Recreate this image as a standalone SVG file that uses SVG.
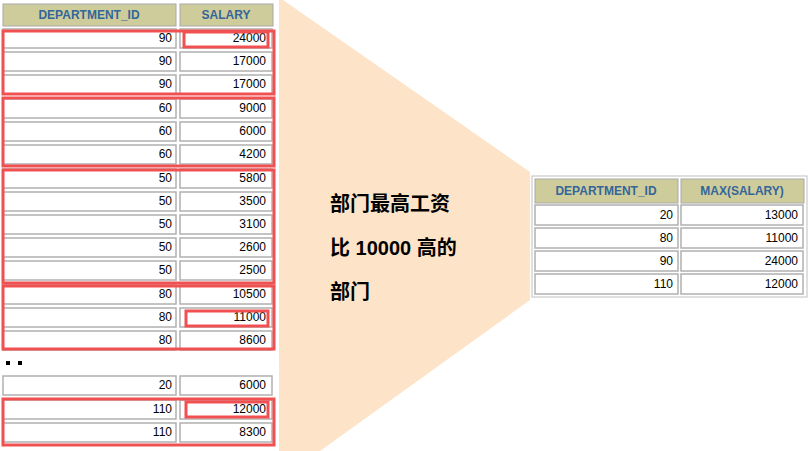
<svg xmlns="http://www.w3.org/2000/svg" width="808" height="451" viewBox="0 0 808 451">
<style>
.h{fill:#cfcc9c;stroke:#a8a8a8;stroke-width:1}
.c{fill:#fff;stroke:#b0b0b0;stroke-width:1.5}
.ht{font-family:"Liberation Sans",Arial,sans-serif;font-weight:bold;font-size:12px;fill:#336699;text-anchor:middle}
.t{font-family:"Liberation Sans",Arial,sans-serif;font-size:12px;fill:#000;text-anchor:end}
.r{fill:none;stroke:#f05050;stroke-width:3}
.zh{font-family:"Liberation Sans","Noto Sans CJK SC",sans-serif;font-weight:bold;font-size:20px;fill:#000}
</style>
<rect width="808" height="451" fill="#fff"/>
<polygon points="279,0 283,0 530,172 530,300 320,451 279,451" fill="#fde3c8"/>
<g id="left-table">
<rect class="h" x="3" y="4" width="173" height="22"/><rect class="h" x="180" y="4" width="93" height="22"/>
<text class="ht" x="89" y="19">DEPARTMENT_ID</text><text class="ht" x="226" y="19">SALARY</text>
<g id="rows">
<rect class="c" x="3" y="29" width="173" height="19"/><rect class="c" x="180" y="29" width="92" height="19"/><text class="t" x="172" y="42">90</text><text class="t" x="266" y="42">24000</text>
<rect class="c" x="3" y="52" width="173" height="19"/><rect class="c" x="180" y="52" width="92" height="19"/><text class="t" x="172" y="65">90</text><text class="t" x="266" y="65">17000</text>
<rect class="c" x="3" y="75" width="173" height="19"/><rect class="c" x="180" y="75" width="92" height="19"/><text class="t" x="172" y="88">90</text><text class="t" x="266" y="88">17000</text>
<rect class="c" x="3" y="99" width="173" height="19"/><rect class="c" x="180" y="99" width="92" height="19"/><text class="t" x="172" y="112">60</text><text class="t" x="266" y="112">9000</text>
<rect class="c" x="3" y="122" width="173" height="19"/><rect class="c" x="180" y="122" width="92" height="19"/><text class="t" x="172" y="135">60</text><text class="t" x="266" y="135">6000</text>
<rect class="c" x="3" y="145" width="173" height="19"/><rect class="c" x="180" y="145" width="92" height="19"/><text class="t" x="172" y="158">60</text><text class="t" x="266" y="158">4200</text>
<rect class="c" x="3" y="169" width="173" height="19"/><rect class="c" x="180" y="169" width="92" height="19"/><text class="t" x="172" y="182">50</text><text class="t" x="266" y="182">5800</text>
<rect class="c" x="3" y="192" width="173" height="19"/><rect class="c" x="180" y="192" width="92" height="19"/><text class="t" x="172" y="205">50</text><text class="t" x="266" y="205">3500</text>
<rect class="c" x="3" y="215" width="173" height="19"/><rect class="c" x="180" y="215" width="92" height="19"/><text class="t" x="172" y="228">50</text><text class="t" x="266" y="228">3100</text>
<rect class="c" x="3" y="238" width="173" height="19"/><rect class="c" x="180" y="238" width="92" height="19"/><text class="t" x="172" y="251">50</text><text class="t" x="266" y="251">2600</text>
<rect class="c" x="3" y="261" width="173" height="19"/><rect class="c" x="180" y="261" width="92" height="19"/><text class="t" x="172" y="274">50</text><text class="t" x="266" y="274">2500</text>
<rect class="c" x="3" y="285" width="173" height="19"/><rect class="c" x="180" y="285" width="92" height="19"/><text class="t" x="172" y="298">80</text><text class="t" x="266" y="298">10500</text>
<rect class="c" x="3" y="308" width="173" height="19"/><rect class="c" x="180" y="308" width="92" height="19"/><text class="t" x="172" y="321">80</text><text class="t" x="266" y="321">11000</text>
<rect class="c" x="3" y="331" width="173" height="19"/><rect class="c" x="180" y="331" width="92" height="19"/><text class="t" x="172" y="344">80</text><text class="t" x="266" y="344">8600</text>
<rect x="6" y="361" width="4" height="4" fill="#000"/><rect x="18" y="361" width="4" height="4" fill="#000"/>
<rect class="c" x="3" y="376" width="173" height="19"/><rect class="c" x="180" y="376" width="92" height="19"/><text class="t" x="172" y="389">20</text><text class="t" x="266" y="389">6000</text>
<rect class="c" x="3" y="400" width="173" height="19"/><rect class="c" x="180" y="400" width="92" height="19"/><text class="t" x="172" y="413">110</text><text class="t" x="266" y="413">12000</text>
<rect class="c" x="3" y="423" width="173" height="19"/><rect class="c" x="180" y="423" width="92" height="19"/><text class="t" x="172" y="436">110</text><text class="t" x="266" y="436">8300</text>
</g>
</g>
<g id="highlights">
<rect class="r" x="3" y="31" width="271" height="63"/>
<rect class="r" x="3" y="98" width="271" height="68"/>
<rect class="r" x="3" y="170" width="271" height="113"/>
<rect class="r" x="3" y="286" width="271" height="63"/>
<rect class="r" x="3" y="399" width="271" height="46"/>
<rect class="r" x="184" y="32" width="84" height="15"/>
<rect class="r" x="186" y="311" width="82" height="15"/>
<rect class="r" x="186" y="402" width="82" height="15"/>
</g>
<g id="label">
<text class="zh" x="330" y="211">部门最高工资</text>
<text class="zh" x="330" y="255">比 10000 高的</text>
<text class="zh" x="330" y="299">部门</text>
</g>
<g id="result-table">
<rect x="532" y="176" width="275" height="121" fill="#fff" stroke="#c0c0c0"/>
<rect class="h" x="535" y="179" width="143" height="24"/><rect class="h" x="681" y="179" width="123" height="24"/>
<text class="ht" x="606" y="195">DEPARTMENT_ID</text><text class="ht" x="742" y="195">MAX(SALARY)</text>
<rect class="c" x="535" y="205" width="143" height="20"/><rect class="c" x="681" y="205" width="122" height="20"/><text class="t" x="673" y="219">20</text><text class="t" x="798" y="219">13000</text>
<rect class="c" x="535" y="228" width="143" height="20"/><rect class="c" x="681" y="228" width="122" height="20"/><text class="t" x="673" y="242">80</text><text class="t" x="798" y="242">11000</text>
<rect class="c" x="535" y="251" width="143" height="20"/><rect class="c" x="681" y="251" width="122" height="20"/><text class="t" x="673" y="265">90</text><text class="t" x="798" y="265">24000</text>
<rect class="c" x="535" y="274" width="143" height="20"/><rect class="c" x="681" y="274" width="122" height="20"/><text class="t" x="673" y="288">110</text><text class="t" x="798" y="288">12000</text>
</g>
</svg>
